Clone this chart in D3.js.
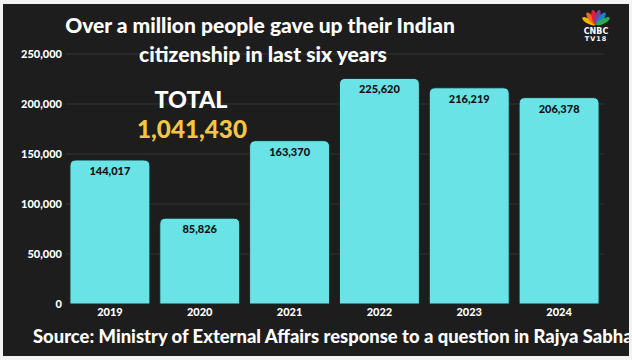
<!DOCTYPE html>
<html lang="en">
<head>
<meta charset="UTF-8">
<title>Indian citizenship renounced</title>
<style>
  body { margin: 0; background: #f3f3f3; }
  svg { display: block; }
</style>
</head>
<body>
<svg id="chart" width="632" height="360"></svg>
<script src="https://d3js.org/d3.v7.min.js"></script>
<script>
  // data
  const years = ["2019", "2020", "2021", "2022", "2023", "2024"];
  const renounced = [144017, 85826, 163370, 225620, 216219, 206378];
  const yTicks = [0, 50000, 100000, 150000, 200000, 250000];
  const totalLabel = "1,041,430";

  const svg = d3.select("#chart"),
    fontFam = "Lato, 'Open Sans', sans-serif";

  // dark panel
  svg.append("rect")
    .attr("x", 3).attr("y", 4).attr("width", 626).attr("height", 352)
    .attr("fill", "#1d1d1d");
  svg.append("clipPath").attr("id", "panel")
    .append("rect").attr("x", 3).attr("y", 4).attr("width", 626).attr("height", 352);

  const x = d3.scaleBand().domain(years).range([65, 604])
    .paddingInner(0.11).paddingOuter(0.055);
  const y = d3.scaleLinear().domain([0, 250000]).range([304, 54]);

  // faint gridlines
  svg.append("g").selectAll("line").data(yTicks.slice(1)).join("line")
    .attr("x1", 66).attr("x2", 604)
    .attr("y1", d => y(d)).attr("y2", d => y(d))
    .attr("stroke", "#fff").attr("stroke-opacity", 0.1);

  // y axis labels
  const yAxis = svg.append("g").attr("transform", "translate(66,0)")
    .call(d3.axisLeft(y).tickValues(yTicks).tickFormat(d3.format(",")).tickSize(0).tickPadding(4));
  yAxis.select(".domain").remove();
  yAxis.selectAll("text")
    .attr("fill", "#fff").attr("font-family", fontFam)
    .attr("font-weight", 900).attr("font-size", 11);

  // bars with rounded tops
  function barPath(x0, w, top, bottom, r) {
    return `M${x0},${bottom}V${top + r}Q${x0},${top} ${x0 + r},${top}H${x0 + w - r}Q${x0 + w},${top} ${x0 + w},${top + r}V${bottom}Z`;
  }
  const data = years.map((yr, i) => ({ year: yr, value: renounced[i] }));
  svg.append("g").selectAll("path").data(data).join("path")
    .attr("d", d => barPath(x(d.year), x.bandwidth(), y(d.value), y(0), 6))
    .attr("fill", "#6ae3e6")
    .attr("stroke", "#0e2a2b").attr("stroke-width", 1);

  // value labels inside bar tops
  svg.append("g").selectAll("text").data(data).join("text")
    .attr("x", d => x(d.year) + x.bandwidth() / 2)
    .attr("y", d => y(d.value) + 15)
    .attr("text-anchor", "middle")
    .attr("font-family", fontFam).attr("font-weight", 900).attr("font-size", 11)
    .attr("fill", "#111")
    .text(d => d3.format(",")(d.value));

  // x axis labels
  const xAxis = svg.append("g").attr("transform", "translate(0,304)")
    .call(d3.axisBottom(x).tickSize(0).tickPadding(4));
  xAxis.select(".domain").remove();
  xAxis.selectAll("text")
    .attr("fill", "#fff").attr("font-family", fontFam)
    .attr("font-weight", 900).attr("font-size", 11);

  // title, fitted to widths measured on the picture
  function fitText(sel, width) {
    const w = sel.node().getComputedTextLength();
    sel.attr("font-size", +sel.attr("font-size") * width / w);
  }
  const t1 = svg.append("text").attr("x", 260).attr("y", 33).attr("text-anchor", "middle")
    .attr("font-family", fontFam).attr("font-weight", 900).attr("font-size", 24)
    .attr("fill", "#fff").text("Over a million people gave up their Indian");
  fitText(t1, 390);
  const t2 = svg.append("text").attr("x", 263).attr("y", 62).attr("text-anchor", "middle")
    .attr("font-family", fontFam).attr("font-weight", 900).attr("font-size", 24)
    .attr("fill", "#fff").text("citizenship in last six years");
  fitText(t2, 248);

  // total callout
  const tot = svg.append("text").attr("x", 191).attr("y", 108).attr("text-anchor", "middle")
    .attr("font-family", fontFam).attr("font-weight", 900).attr("font-size", 21)
    .attr("fill", "#fff").text("TOTAL");
  fitText(tot, 73);
  const totV = svg.append("text").attr("x", 192).attr("y", 138).attr("text-anchor", "middle")
    .attr("font-family", fontFam).attr("font-weight", 900).attr("font-size", 22)
    .attr("fill", "#f3c744").text(totalLabel);
  fitText(totV, 110);

  // source line, runs off the right edge
  const src = svg.append("text").attr("x", 33).attr("y", 343)
    .attr("clip-path", "url(#panel)")
    .attr("font-family", fontFam).attr("font-weight", 900).attr("font-size", 17)
    .attr("fill", "#fff").text("Source: Ministry of External Affairs response to a question in Rajya Sabha");
  fitText(src, 600);

  // CNBC-TV18 logo
  const logo = svg.append("g").attr("transform", "translate(596,25)");
  const feathers = ["#f7b500", "#ef6c1e", "#e0203a", "#7b3fa0", "#1a7fd0", "#2cab4a"];
  logo.selectAll("ellipse").data(feathers).join("ellipse")
    .attr("cx", 0).attr("cy", -8).attr("rx", 2.6).attr("ry", 7.5)
    .attr("fill", d => d)
    .attr("transform", (d, i) => `rotate(${-62 + i * 24.8})`);
  logo.append("text").attr("x", 0).attr("y", 9).attr("text-anchor", "middle")
    .attr("font-family", "'DejaVu Sans', sans-serif").attr("font-weight", 700).attr("font-size", 8)
    .attr("fill", "#fff").text("CNBC");
  logo.append("text").attr("x", 0).attr("y", 16).attr("text-anchor", "middle")
    .attr("font-family", "'DejaVu Sans', sans-serif").attr("font-weight", 700).attr("font-size", 6.5)
    .attr("letter-spacing", 1).attr("fill", "#fff").text("TV18");
</script>
</body>
</html>
